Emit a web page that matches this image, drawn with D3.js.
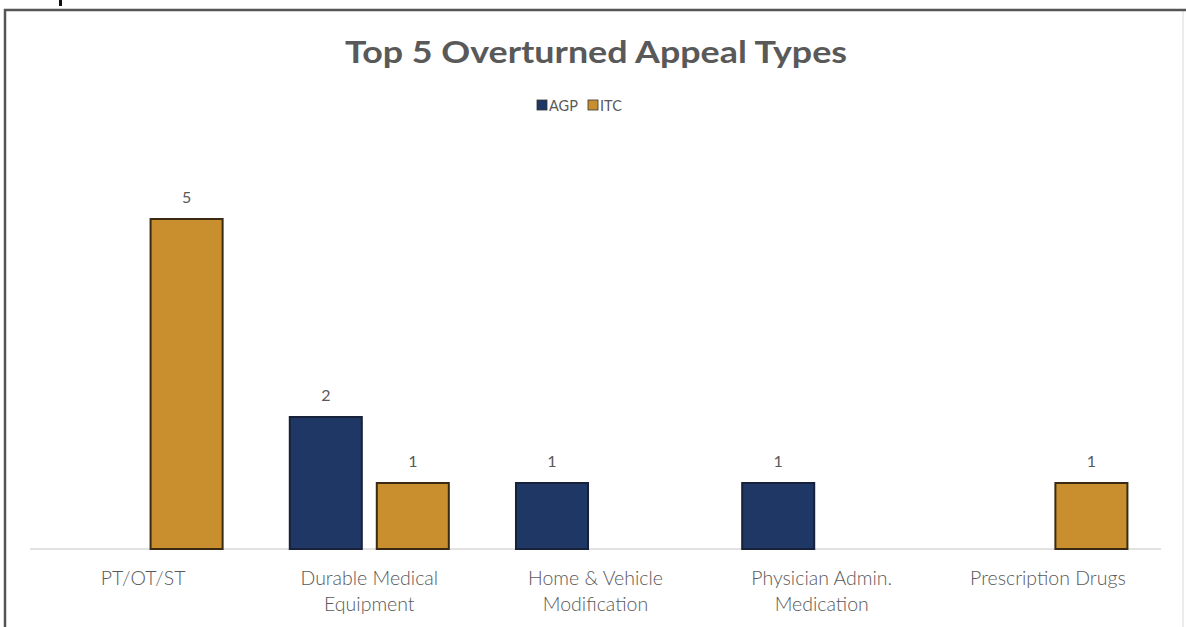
<!DOCTYPE html>
<html>
<head>
<meta charset="utf-8">
<script src="https://cdn.jsdelivr.net/npm/d3@7"></script>
<style>
  body { margin: 0; background: #fff; }
  svg { display: block; }
  text { font-family: Lato, "Open Sans", sans-serif; }
</style>
</head>
<body>
<div id="chart"></div>
<script>
// chart data
var categories = [
  ['PT/OT/ST'],
  ['Durable Medical', 'Equipment'],
  ['Home & Vehicle', 'Modification'],
  ['Physician Admin.', 'Medication'],
  ['Prescription Drugs']
];
var seriesNames = ['AGP', 'ITC'];
var agpValues = [null, 2, 1, 1, null];
var itcValues = [5, 1, null, null, 1];

var w = 1186;
var h = 627;
var colors = { AGP: '#1f3764', ITC: '#c98f2f' };

var svg = d3.select('#chart')
  .append('svg')
  .attr('width', w)
  .attr('height', h);

// outer frame (screenshot of a slide)
svg.append('rect')
  .attr('x', 5).attr('y', 10)
  .attr('width', 1178).attr('height', 640)
  .attr('fill', '#fff')
  .attr('stroke', '#d8d8d8')
  .attr('stroke-width', 1);
svg.append('line')
  .attr('x1', 4).attr('x2', w).attr('y1', 10).attr('y2', 10)
  .attr('stroke', '#555').attr('stroke-width', 2.5);
svg.append('line')
  .attr('x1', 5).attr('x2', 5).attr('y1', 9).attr('y2', h)
  .attr('stroke', '#555').attr('stroke-width', 2.5);
svg.append('rect')
  .attr('x', 59).attr('y', 0).attr('width', 3).attr('height', 6)
  .attr('fill', '#111');

// title
svg.append('text')
  .attr('x', 596).attr('y', 63)
  .attr('text-anchor', 'middle')
  .attr('textLength', 502)
  .attr('lengthAdjust', 'spacingAndGlyphs')
  .style('font-size', '31px')
  .style('font-weight', 'bold')
  .style('fill', '#595959')
  .text('Top 5 Overturned Appeal Types');

// legend
var legend = svg.append('g').attr('transform', 'translate(537,105)');
var legX = [0, 51];
seriesNames.forEach(function(s, i) {
  legend.append('rect')
    .attr('x', legX[i]).attr('y', -5)
    .attr('width', 10).attr('height', 10)
    .attr('fill', colors[s])
    .attr('stroke', '#333').attr('stroke-width', 0.8);
  legend.append('text')
    .attr('x', legX[i] + 12).attr('y', 5.5)
    .style('font-size', '14.5px')
    .style('fill', '#595959')
    .text(s);
});

// scales
var x0 = d3.scaleBand()
  .domain(d3.range(categories.length))
  .range([30, 1161]);
var x1 = d3.scaleBand()
  .domain(seriesNames)
  .range([0, x0.bandwidth()])
  .paddingInner(0.172)
  .paddingOuter(0.386);
var y = d3.scaleLinear()
  .domain([0, 5])
  .range([549, 219]);

// baseline
svg.append('line')
  .attr('x1', x0.range()[0]).attr('x2', x0.range()[1])
  .attr('y1', y(0)).attr('y2', y(0))
  .attr('stroke', '#d9d9d9').attr('stroke-width', 1.5);

var rows = [];
categories.forEach(function(c, i) {
  if (agpValues[i] != null) rows.push({ i: i, s: 'AGP', v: agpValues[i] });
  if (itcValues[i] != null) rows.push({ i: i, s: 'ITC', v: itcValues[i] });
});

svg.selectAll('rect.bar')
  .data(rows)
  .enter()
  .append('rect')
  .attr('class', 'bar')
  .attr('x', d => x0(d.i) + x1(d.s))
  .attr('y', d => y(d.v))
  .attr('width', x1.bandwidth())
  .attr('height', d => y(0) - y(d.v))
  .attr('fill', d => colors[d.s])
  .attr('stroke', d => d.s === 'ITC' ? '#3a2a12' : '#17223a')
  .attr('stroke-width', 2);

svg.selectAll('text.val')
  .data(rows)
  .enter()
  .append('text')
  .attr('class', 'val')
  .attr('x', d => x0(d.i) + x1(d.s) + x1.bandwidth() / 2)
  .attr('y', d => y(d.v) - 16)
  .attr('text-anchor', 'middle')
  .style('font-size', '16px')
  .style('fill', '#595959')
  .text(d => d.v);

// category labels
var labels = svg.selectAll('text.cat')
  .data(categories)
  .enter()
  .append('text')
  .attr('class', 'cat')
  .attr('text-anchor', 'middle')
  .style('font-size', '19.5px')
  .style('font-weight', 300)
  .style('fill', '#595959');
labels.each(function(lines, i) {
  var t = d3.select(this);
  lines.forEach(function(line, j) {
    t.append('tspan')
      .attr('x', x0(i) + x0.bandwidth() / 2)
      .attr('y', 585 + j * 26)
      .text(line);
  });
});
</script>
</body>
</html>
